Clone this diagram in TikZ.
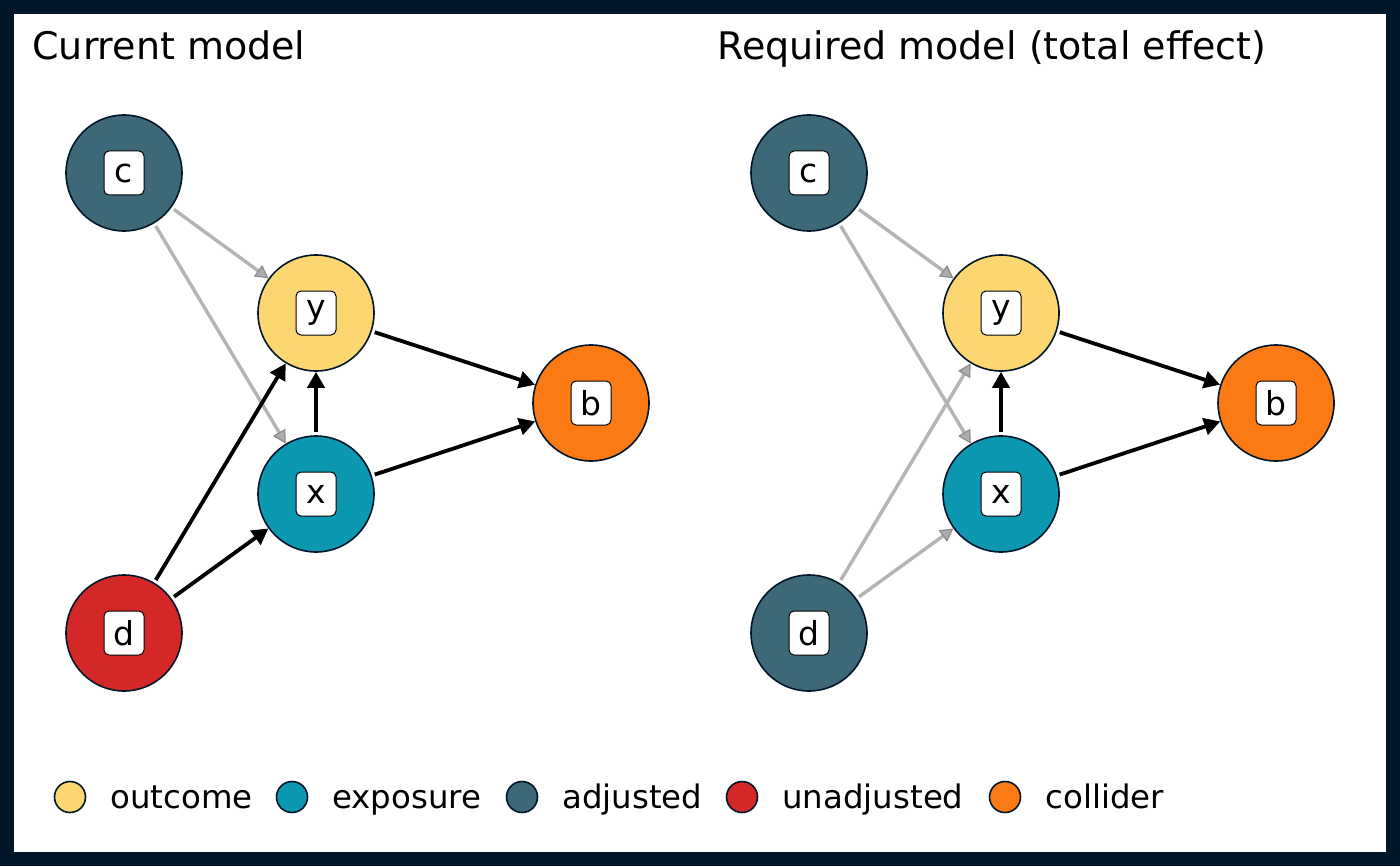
\documentclass[tikz,border=0pt]{standalone}
\usepackage{fontspec}
\setmainfont{DejaVu Sans}
\usetikzlibrary{arrows.meta}
\definecolor{framec}{RGB}{1,22,41}
\definecolor{outc}{RGB}{252,214,112}
\definecolor{expc}{RGB}{12,152,177}
\definecolor{adjc}{RGB}{60,104,120}
\definecolor{unadjc}{RGB}{212,40,40}
\definecolor{collc}{RGB}{252,122,20}
\definecolor{grayline}{RGB}{180,180,180}
\begin{document}
\begin{tikzpicture}[x=0.5pt,y=-0.5pt,
  vert/.style={circle,draw=framec,line width=0.8pt,minimum size=58pt,inner sep=0pt},
  lab/.style={draw=black,fill=white,line width=0.5pt,rounded corners=2.5pt,minimum width=20pt,minimum height=22pt,inner sep=0pt,font=\fontsize{16.5}{19}\selectfont},
  blk/.style={draw=black,line width=1.9pt,shorten <=1.5pt,-{Triangle[length=8pt,width=8.5pt]}},
  gry/.style={draw=grayline,line width=1.7pt,shorten <=1.5pt,-{Triangle[length=6.5pt,width=7pt,color=black!45,fill=black!32,line width=0.6pt]}},
  ttl/.style={anchor=base west,inner sep=0pt,font=\fontsize{19}{23}\selectfont},
  legc/.style={circle,draw=framec,line width=0.8pt,minimum size=15.5pt,inner sep=0pt},
  legt/.style={anchor=base west,inner sep=0pt,font=\fontsize{16.2}{19}\selectfont}]
\useasboundingbox (0,0) rectangle (1400,866);
\fill[white] (0,0) rectangle (1400,866);
\draw[framec,line width=7pt] (7,7) rectangle (1393,859);

\node[ttl] (t1) at (32,60) {Current model};
\node[ttl] (t2) at (717,60) {Required model (total effect)};

% left graph
\node[vert,fill=adjc] (c1) at (124,173) {};
\node[vert,fill=outc] (y1) at (316,313) {};
\node[vert,fill=collc] (b1) at (591,403) {};
\node[vert,fill=expc] (x1) at (316,494) {};
\node[vert,fill=unadjc] (d1) at (124,633) {};
\draw[gry] (c1) -- (y1);
\draw[gry] (c1) -- (x1);
\draw[blk] (d1) -- (y1);
\draw[blk] (d1) -- (x1);
\draw[blk] (x1) -- (y1);
\draw[blk] (y1) -- (b1);
\draw[blk] (x1) -- (b1);
\node[lab] (c1l) at (c1) {c};
\node[lab] (y1l) at (y1) {y};
\node[lab] (b1l) at (b1) {b};
\node[lab] (x1l) at (x1) {x};
\node[lab] (d1l) at (d1) {d};

% right graph
\node[vert,fill=adjc] (c2) at (809,173) {};
\node[vert,fill=outc] (y2) at (1001,313) {};
\node[vert,fill=collc] (b2) at (1276,403) {};
\node[vert,fill=expc] (x2) at (1001,494) {};
\node[vert,fill=adjc] (d2) at (809,633) {};
\draw[gry] (c2) -- (y2);
\draw[gry] (c2) -- (x2);
\draw[gry] (d2) -- (y2);
\draw[gry] (d2) -- (x2);
\draw[blk] (x2) -- (y2);
\draw[blk] (y2) -- (b2);
\draw[blk] (x2) -- (b2);
\node[lab] (c2l) at (c2) {c};
\node[lab] (y2l) at (y2) {y};
\node[lab] (b2l) at (b2) {b};
\node[lab] (x2l) at (x2) {x};
\node[lab] (d2l) at (d2) {d};

% legend
\node[legc,fill=outc] (l1) at (70,797) {};
\node[legt] (l1t) at (110,808) {outcome};
\node[legc,fill=expc] (l2) at (292,797) {};
\node[legt] (l2t) at (332,808) {exposure};
\node[legc,fill=adjc] (l3) at (522,797) {};
\node[legt] (l3t) at (562,808) {adjusted};
\node[legc,fill=unadjc] (l4) at (742,797) {};
\node[legt] (l4t) at (782,808) {unadjusted};
\node[legc,fill=collc] (l5) at (1005,797) {};
\node[legt] (l5t) at (1045,808) {collider};
\end{tikzpicture}
\end{document}
